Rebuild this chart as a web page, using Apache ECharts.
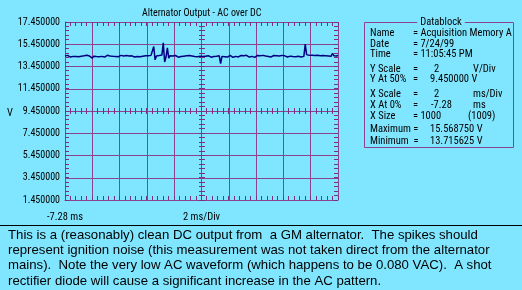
<!DOCTYPE html>
<html>
<head>
<meta charset="utf-8">
<script src="https://cdn.jsdelivr.net/npm/echarts@6/dist/echarts.min.js"></script>
<style>
html,body{margin:0;padding:0;background:#80E6FF;}
#chart{width:522px;height:290px;background:#80E6FF;}
</style>
</head>
<body>
<div id="chart"></div>
<script>
// ---- data ----
var title = 'Alternator Output - AC over DC';
var yOffset = 1.45;        // volts at bottom of screen
var yTickValues = ['17.450000','15.450000','13.450000','11.450000','9.450000','7.450000','5.450000','3.450000','1.450000'];
var xStartLabel = '-7.28 ms';
var xCenterLabel = '2 ms/Div';
var sampleMs = 0.1;        // ms between plotted samples
var volts = [
14.40,14.33,14.45,14.38,14.30,14.42,14.36,14.47,14.35,14.40,
14.32,14.44,14.38,14.29,14.41,14.37,14.46,14.34,14.39,14.31,
14.20,14.38,14.43,14.35,14.40,14.33,14.45,14.36,14.41,14.30,
14.39,14.46,14.34,14.40,14.28,14.37,14.44,14.35,14.42,14.33,
14.38,14.45,14.31,14.40,14.36,14.43,14.27,14.39,14.34,14.41,
14.37,14.30,14.44,14.35,14.40,14.33,14.46,14.38,14.32,14.42,
14.36,14.41,14.34,14.45,14.37,15.25,14.05,14.40,14.33,14.43,
14.36,14.48,15.57,13.85,14.30,15.12,14.20,14.42,14.35,14.40,
14.31,14.44,14.37,14.29,14.40,14.34,14.45,14.38,14.33,14.41,
14.36,14.43,14.30,14.39,14.46,14.35,14.40,14.32,14.44,14.37,
14.41,14.34,14.46,14.38,14.31,14.42,14.36,14.29,14.40,14.35,
14.44,14.37,14.32,14.41,13.72,14.36,14.43,14.33,14.39,14.30,
14.38,14.45,14.34,14.28,14.40,14.36,14.42,14.31,14.39,14.44,
14.35,14.41,14.33,14.46,14.37,14.30,14.42,14.36,14.40,14.27,
14.38,14.44,14.34,14.41,14.36,14.45,14.32,14.39,14.43,14.35,
14.40,14.31,14.37,14.44,14.33,14.42,14.28,14.39,14.36,14.45,
14.34,14.41,14.37,14.30,14.43,14.38,14.46,14.35,14.40,14.33,
14.44,14.37,14.42,14.31,14.48,14.36,15.47,14.52,14.38,14.45,
14.40,14.47,14.36,14.43,14.39,14.46,14.34,14.41,14.37,14.44,
14.35,14.42,14.30,14.40,14.46,14.37,14.64,14.41,14.50,14.39,
14.45
];
var dbLabels = ['Name','Date','Time','Y Scale','Y At 50%','X Scale','X At 0%','X Size','Maximum =','Minimum  ='];
var dbEq     = ['= Acquisition Memory A','= 7/24/99','= 11:05:45 PM','=','=','=','=','= 1000','',''];
var dbValues = ['','','','2','9.450000 V','2','-7.28','','15.568750 V','13.715625 V'];
var dbUnits  = ['','','','V/Div','','ms/Div','ms','(1009)','',''];
var note = [
'This is a (reasonably) clean DC output from  a GM alternator.  The spikes should',
'represent ignition noise (this measurement was not taken direct from the alternator',
'mains).  Note the very low AC waveform (which happens to be 0.080 VAC).  A shot',
'rectifier diode will cause a significant increase in the AC pattern.'
];

// ---- chart ----
var BG = '#80E6FF';
var GRID = '#8C428C';
var TICK = '#7A307A';
var FONT = "'Roboto Condensed','DejaVu Sans Condensed',sans-serif";
var chart = echarts.init(document.getElementById('chart'));
var data = volts.map(function(v,i){ return [i*sampleMs, v - yOffset]; });

var X_MAX = 20, Y_MAX = 16, SUB = 0.4;
// graticule sub-division positions (5 per division)
var subX = [], subY = [];
for (var k = 0; k <= Math.round(X_MAX/SUB); k++) subX.push([+(k*SUB).toFixed(2), 0]);
for (var m = 0; m <= Math.round(Y_MAX/SUB); m++) subY.push([0, +(m*SUB).toFixed(2)]);

function crisp(v){ return Math.round(v - 0.5) + 0.5; }

var G = {left:65, top:22, width:273, height:178};
function mainAxis(dim, pos, labelOpt){
  return {
    type:'value', position:pos, min:0, max:(dim==='x'?X_MAX:Y_MAX), interval:2,
    axisLine:{show:true, onZero:false, lineStyle:{color:GRID,width:1}},
    axisTick:{show:false},
    axisLabel:labelOpt,
    splitLine:{show:true, lineStyle:{color:GRID,width:1}}
  };
}

var graphics = [];
graphics.push({type:'text', x:7, y:113, style:{text:'V', fill:'#000', font:'10.5px '+FONT, textVerticalAlign:'middle'}});
graphics.push({type:'line', shape:{x1:0,y1:225.5,x2:522,y2:225.5}, style:{stroke:'#000',lineWidth:1}, silent:true});
note.forEach(function(t,i){
  graphics.push({type:'text', x:8, y:235 + i*15.4, style:{text:t, fill:'#000', font:'13.2px "Liberation Sans",Arial,sans-serif', textVerticalAlign:'middle', textAlign:'left'}});
});
graphics.push({type:'rect', shape:{x:364.5,y:22.5,width:149,height:125}, style:{fill:null, stroke:GRID, lineWidth:1}});
graphics.push({type:'text', x:441, y:22, style:{text:'Datablock', fill:'#000', font:'10.5px '+FONT, textAlign:'center', textVerticalAlign:'middle', backgroundColor:BG, padding:[0,3]}});
var rowY = [33,44,54,69,79,94,105,116,129,141];
var f = '10.5px '+FONT;
dbLabels.forEach(function(t,i){
  var y = rowY[i];
  graphics.push({type:'text', x:370, y:y, style:{text:t, fill:'#000', font:f, textVerticalAlign:'middle'}});
  if(dbEq[i]) graphics.push({type:'text', x:413, y:y, style:{text:dbEq[i], fill:'#000', font:f, textVerticalAlign:'middle'}});
  if(dbValues[i]){
    var vx = (i>=8)?430:(dbValues[i].length<3?434:(i===6?431:430));
    graphics.push({type:'text', x:vx, y:y, style:{text:dbValues[i], fill:'#000', font:f, textVerticalAlign:'middle'}});
  }
  if(dbUnits[i]){
    var ux = (i===7)?468:473;
    graphics.push({type:'text', x:ux, y:y, style:{text:dbUnits[i], fill:'#000', font:f, textVerticalAlign:'middle'}});
  }
});

// tick marks drawn as one path per data point (through the axis scales)
function tickPath(segs){
  var d = '';
  segs.forEach(function(s){ d += 'M' + s[0] + ' ' + s[1] + 'L' + s[2] + ' ' + s[3]; });
  return {type:'path', shape:{pathData:d}, style:{stroke:TICK, lineWidth:1, fill:null}};
}

chart.setOption({
  animation:false,
  title:{text:title, left:137, top:3,
    textStyle:{fontSize:10, fontWeight:'normal', color:'#000', fontFamily:FONT}},
  grid:{left:G.left, top:G.top, width:G.width, height:G.height},
  xAxis: mainAxis('x','bottom',{show:true, margin:12, color:'#000', fontSize:10.5, fontFamily:FONT,
      formatter:function(v){ if(v===0) return xStartLabel; if(v===10) return xCenterLabel; return ''; }}),
  yAxis: mainAxis('y','left',{show:true, margin:5, color:'#000', fontSize:10, fontFamily:FONT,
      formatter:function(v){ return yTickValues[8 - Math.round(v/2)]; }}),
  series:[
    { // vertical sub-division ticks: bottom, top and centre line
      type:'custom', silent:true, clip:false, data:subX, encode:{x:0, y:1}, z:6,
      renderItem:function(params, api){
        var v = api.value(0);
        var b = api.coord([v, 0]), t = api.coord([v, Y_MAX]), c = api.coord([v, Y_MAX/2]);
        var x = crisp(b[0]);
        return tickPath([
          [x, Math.round(b[1]), x, Math.round(b[1])-4],
          [x, Math.round(t[1]), x, Math.round(t[1])+4],
          [x, Math.round(c[1])-3, x, Math.round(c[1])+3]
        ]);
      }
    },
    { // horizontal sub-division ticks: left, right and centre line
      type:'custom', silent:true, clip:false, data:subY, encode:{x:0, y:1}, z:6,
      renderItem:function(params, api){
        var v = api.value(1);
        var l = api.coord([0, v]), r = api.coord([X_MAX, v]), c = api.coord([X_MAX/2, v]);
        var y = crisp(l[1]);
        return tickPath([
          [Math.round(l[0]), y, Math.round(l[0])+4, y],
          [Math.round(r[0]), y, Math.round(r[0])-4, y],
          [Math.round(c[0])-3, y, Math.round(c[0])+3, y]
        ]);
      }
    },
    {
      type:'line', data:data, showSymbol:false, z:5,
      lineStyle:{color:'#000080', width:1.5}
    }
  ],
  graphic: graphics
});
</script>
</body>
</html>
